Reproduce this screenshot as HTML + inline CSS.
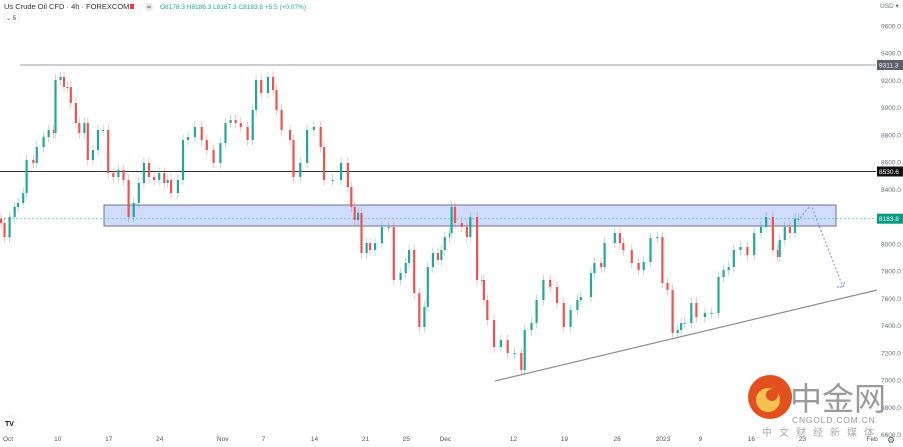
<!DOCTYPE html>
<html><head><meta charset="utf-8"><style>
html,body{margin:0;padding:0;background:#fff;width:903px;height:447px;overflow:hidden;font-family:"Liberation Sans","Noto Sans CJK SC",sans-serif}
svg{display:block}
</style></head><body>
<svg id="chart" width="903" height="447" viewBox="0 0 903 447" xmlns="http://www.w3.org/2000/svg">
<g id="grid"></g>
<rect x="104" y="205" width="732" height="21" fill="#cfdcfb" stroke="#6f7280" stroke-width="1"/>
<line x1="0" y1="218.7" x2="876" y2="218.7" stroke="#6cc8b4" stroke-width="0.8" stroke-dasharray="2,2"/>
<line x1="20" y1="65" x2="876" y2="65" stroke="#9a9ca3" stroke-width="1"/>
<line x1="0" y1="171.5" x2="876" y2="171.5" stroke="#333" stroke-width="1"/>
<line x1="495" y1="381" x2="877" y2="290" stroke="#8c8e94" stroke-width="1.2"/>
<g id="candles"></g>
<polyline points="800,218 811,205 843,287" fill="none" stroke="#7d9ef0" stroke-width="1.2" stroke-dasharray="2,2"/>
<polyline points="837,287 843,287 845,281" fill="none" stroke="#7d9ef0" stroke-width="1.2" stroke-dasharray="2,1"/>
<g id="yaxis" font-size="6.5" fill="#6a6d78"></g>
<text x="880" y="8" font-size="6.5" fill="#6a6d78">USD ▾</text>
<g><rect x="877" y="60" width="26" height="10" fill="#5d606b"/><text x="879" y="67.5" font-size="6.5" fill="#fff">9311.3</text></g>
<g><rect x="877" y="166.5" width="26" height="10" fill="#111"/><text x="879" y="174" font-size="6.5" fill="#fff">8530.6</text></g>
<g><rect x="877" y="213.7" width="26" height="10" fill="#089981"/><text x="879" y="221.2" font-size="6.5" fill="#fff">8183.8</text></g>
<g id="xaxis" font-size="6.5" fill="#555"></g>
<text x="4" y="9" font-size="7.5" fill="#333">Us Crude Oil CFD · 4h · FOREXCOM</text>
<rect x="130" y="4" width="4" height="5" fill="#f23645"/>
<circle cx="149" cy="7" r="4" fill="#e6e6ea"/>
<rect x="147" y="6.5" width="4" height="1" fill="#666"/>
<text x="160" y="9" font-size="6.5" fill="#22ab94">O8178.3  H8186.3  L8167.3  C8183.8  +5.5 (+0.07%)</text>
<rect x="4" y="13" width="15" height="9" rx="2" fill="#fff" stroke="#ddd" stroke-width="0.6"/>
<text x="6" y="20" font-size="6" fill="#444">⌄ 5</text>
<circle cx="9" cy="423" r="7" fill="#fff" stroke="#eee"/>
<text x="5" y="426" font-size="7" font-weight="bold" fill="#111">TV</text>
<g>
<circle cx="770" cy="397" r="22" fill="#e2501f"/>
<circle cx="768" cy="400" r="12" fill="#f6c14e"/>
<circle cx="772" cy="395" r="6" fill="#e2501f"/>
<text x="790" y="410" font-size="32" fill="#9a9a9a" font-family="'Noto Sans CJK SC',sans-serif">中金网</text>
<text x="792" y="423" font-size="8.5" fill="#999" letter-spacing="0.8">CNGOLD.COM.CN</text>
<text x="762" y="436" font-size="10" fill="#aaa" letter-spacing="7" font-family="'Noto Sans CJK SC',sans-serif">中文财经新媒体</text>
</g>
<text x="887" y="443" font-size="9" fill="#555">⚙</text>
</svg>
<script>
const bars=[0,2,5,8,10,13,15,19,21,25,28,31,32,35,37,39,41,44,46,49,51,54,57,60,63,66,69,72,75,78,81,84,87,90,93,96,98,100,104,107,110,114,118,121,125,129,132,135,138,141,145,148,150,153,157,160,162,165,170,172,176,180,184,188,190,195,200,204,206,208,210,212,215,217,220,224,228,231,235,238,240,243,246,249,251,254,257,259,261,264,265,267,271,274,276,280,283,284,286,290,294,298,302,306,308,312,315,319,323,327,331,335,339,341,347,349,353,355,361,364,366,371,375,378,382,386,389,392,395,398,400,402,406,409,414,418,422,425,428,431,435,439,443,447,450,454,457,458,461,464,467,469,471];
const closes=[8152,8049,8196,8270,8299,8372,8615,8593,8710,8783,8835,8813,9202,9224,9150,9150,9033,8886,8813,8886,8615,8688,8835,8835,8519,8490,8541,8468,8196,8299,8446,8593,8490,8468,8519,8446,8468,8372,8468,8761,8783,8857,8761,8688,8593,8739,8886,8908,8886,8857,8761,8982,9202,9106,9224,9128,8982,8835,8761,8490,8593,8835,8857,8710,8468,8468,8593,8416,8270,8174,8226,7932,8005,7954,8005,8123,8123,7734,7785,7859,7954,7638,7389,7536,7829,7932,7881,7954,8049,8079,8270,8152,8123,8049,8196,7734,7734,7587,7440,7242,7293,7198,7198,7073,7367,7418,7587,7734,7682,7565,7389,7514,7587,7609,7785,7859,7829,8005,8079,8005,7954,7859,7807,7866,8042,8049,7712,7660,7345,7367,7418,7418,7565,7462,7492,7492,7756,7807,7829,7954,7976,7917,8079,8123,8196,7954,7903,8027,8123,8079,8184,8184];
const yTicks=[9600,9400,9200,9000,8800,8600,8400,8000,7800,7600,7400,7200,7000,6800,6600];
const xLabels=["Oct","10","17","24","Nov","7","14","21","25","Dec","12","19","26","2023","9","16","23","Feb"];
const xLabelBars=[0,34,64,94,131,155,185,215,239,262,302,332,363,390,412,442,472,513];
const NS="http://www.w3.org/2000/svg";
const yScale=p=>53+(9400-p)/200*27.25;
const xScale=b=>b*1.7;
const cg=document.getElementById('candles');
for(let i=0;i<closes.length;i++){
  const o=i?closes[i-1]:closes[0]+30, c=closes[i];
  const x=xScale(bars[i]);
  const nx=i<bars.length-1?xScale(bars[i+1]):x+4;
  const w=Math.min(2.2,Math.max(1.4,nx-x-1));
  const up=c>=o, col=up?'#26a69a':'#ef5350';
  const hi=Math.max(o,c)+40, lo=Math.min(o,c)-40;
  const wick=document.createElementNS(NS,'line');
  
  
  wick.setAttribute('x1',x+w/2);wick.setAttribute('x2',x+w/2);
  wick.setAttribute('y1',yScale(hi));wick.setAttribute('y2',yScale(lo));
  wick.setAttribute('stroke',col);wick.setAttribute('stroke-width','0.7');wick.setAttribute('opacity','0.5');
  cg.appendChild(wick);
  const r=document.createElementNS(NS,'rect');
  
  
  const y1=yScale(Math.max(o,c)), y2=yScale(Math.min(o,c));
  r.setAttribute('x',x);r.setAttribute('width',w);
  r.setAttribute('y',y1);r.setAttribute('height',Math.max(1,y2-y1));
  r.setAttribute('fill',col);
  cg.appendChild(r);
}
const ya=document.getElementById('yaxis');
yTicks.forEach(v=>{
  const t=document.createElementNS(NS,'text');
  
  
  t.setAttribute('x',881);t.setAttribute('y',yScale(v)+2.5);
  t.textContent=v.toFixed(1);
  ya.appendChild(t);
});
const xa=document.getElementById('xaxis');
xLabels.forEach((l,i)=>{
  const t=document.createElementNS(NS,'text');
  
  
  t.setAttribute('x',xScale(xLabelBars[i])+(i===0?3:0));t.setAttribute('y',441);
  t.setAttribute('text-anchor',i===0?'start':'middle');
  t.textContent=l;
  xa.appendChild(t);
});
</script>
</body></html>
